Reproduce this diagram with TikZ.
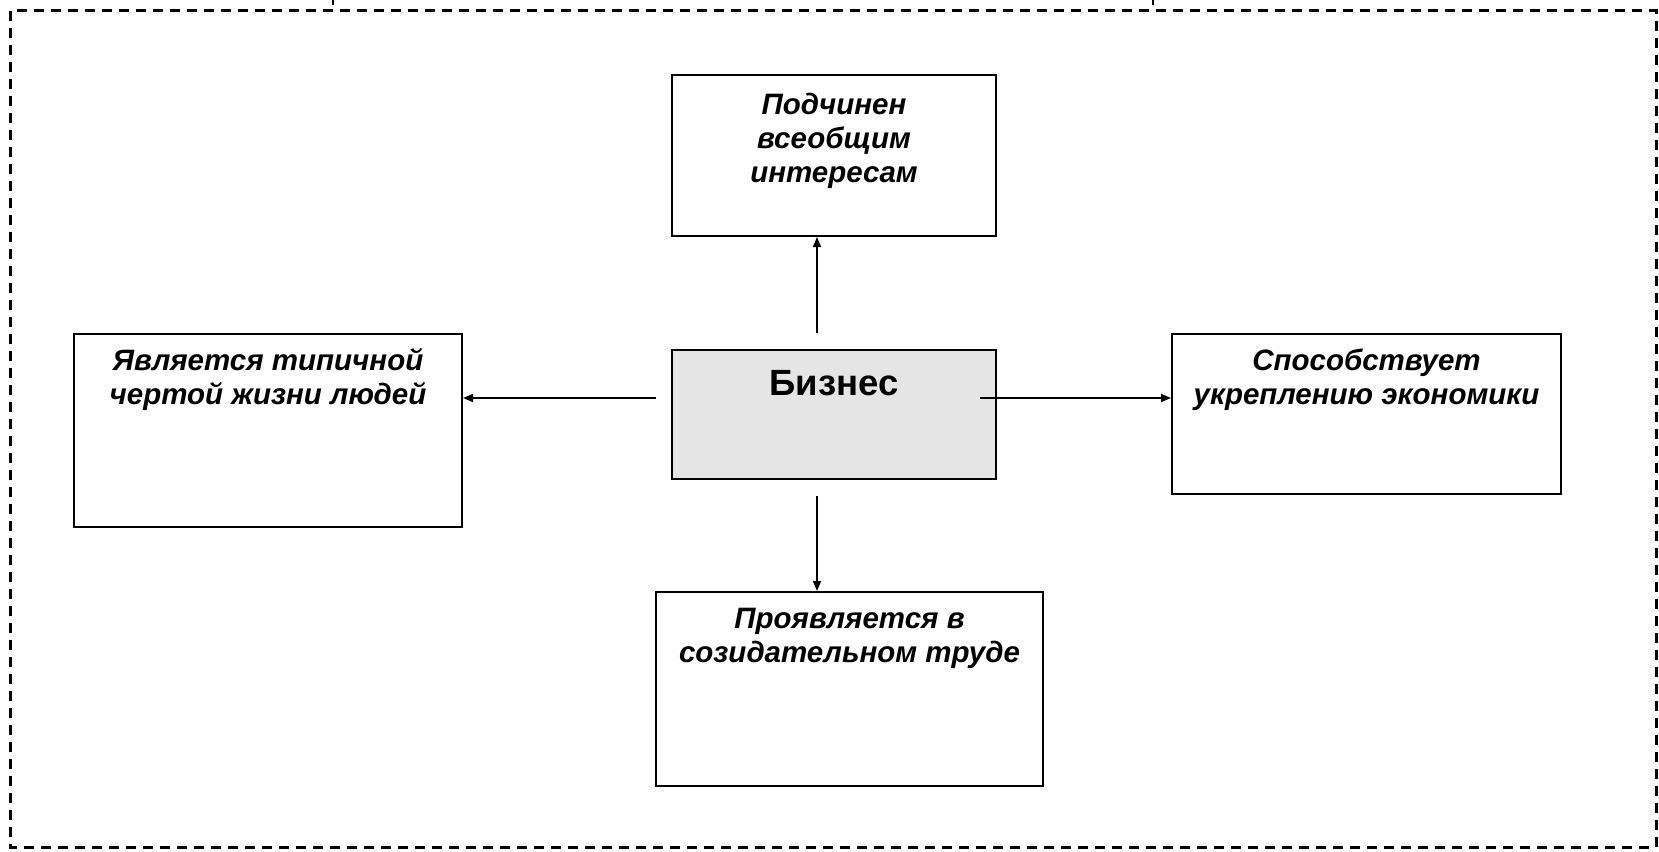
\documentclass[tikz,border=0pt]{standalone}
\usepackage{fontspec}
\setmainfont{Liberation Sans}
\usetikzlibrary{arrows.meta}
\begin{document}
\begin{tikzpicture}[x=1pt,y=-1pt,
  box/.style={draw=black,line width=2pt,minimum width=#1,inner sep=0pt},
  txt/.style={font=\fontsize{29.5}{34}\selectfont\bfseries\itshape,align=center,inner sep=0pt,anchor=base},
  conn/.style={line width=1.4pt,-{Triangle[length=10pt,width=8pt]}},
  frame/.style={line width=3pt,dash pattern=on 10pt off 7pt}]
\useasboundingbox (0,0) rectangle (1659,851);
% frame and cut-off marks
\draw[frame] (10,11) rectangle (1656,847);
\draw[line width=2.5pt] (333,0) -- (333,5);
\draw[line width=2.5pt] (1153,0) -- (1153,5);
% boxes
\node[box=324pt,minimum height=161pt] (top) at (834,155.5) {};
\node[box=324pt,minimum height=129pt,fill={rgb,255:red,229;green,229;blue,229}] (mid) at (834,414.5) {};
\node[box=388pt,minimum height=193pt] (left) at (268,430.5) {};
\node[box=389pt,minimum height=160pt] (right) at (1366.5,414) {};
\node[box=387pt,minimum height=194pt] (bot) at (849.5,689) {};
% texts (anchored at the baseline of their last line)
\node[txt] (ttop) at (834,182) {Подчинен\\всеобщим\\интересам};
\node[font=\fontsize{36.5}{40}\selectfont\bfseries,inner sep=0pt,anchor=base] (tmid) at (834,395) {Бизнес};
\node[txt] (tleft) at (268,404) {Является типичной\\чертой жизни людей};
\node[txt] (tright) at (1366.5,404) {Способствует\\укреплению экономики};
\node[txt] (tbot) at (849.5,662) {Проявляется в\\созидательном труде};
% connector start points
\coordinate (su) at (817,333);
\coordinate (sd) at (817,496);
\coordinate (sl) at (656,398);
\coordinate (sr) at (980,398);
\draw[conn] (su) -- (su |- top.south);
\draw[conn] (sd) -- (sd |- bot.north);
\draw[conn] (sl) -- (sl -| left.east);
\draw[conn] (sr) -- (sr -| right.west);
\end{tikzpicture}
\end{document}
